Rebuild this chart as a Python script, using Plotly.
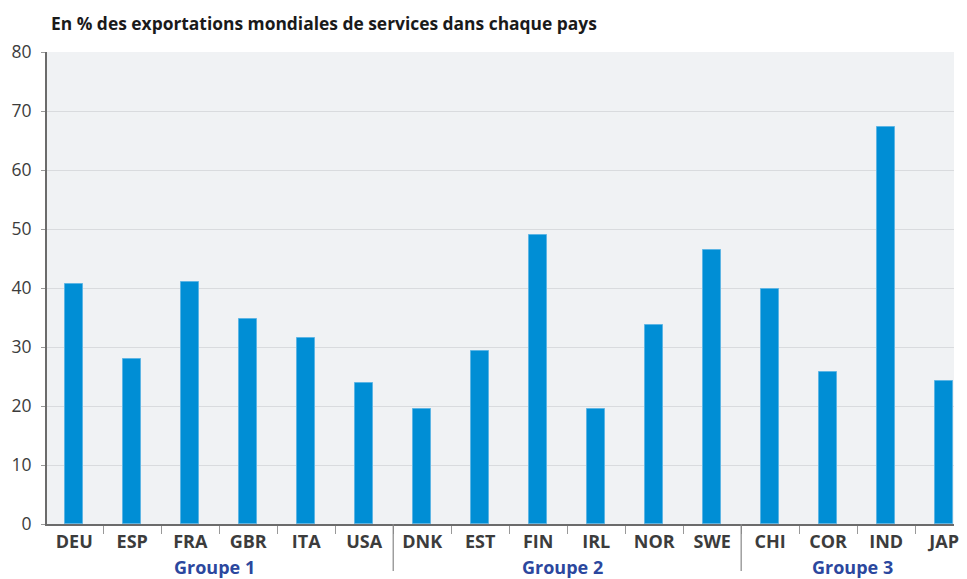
import plotly.graph_objects as go

countries = ["DEU", "ESP", "FRA", "GBR", "ITA", "USA",
             "DNK", "EST", "FIN", "IRL", "NOR", "SWE",
             "CHI", "COR", "IND", "JAP"]
values = [40.7, 28.0, 41.0, 34.8, 31.5, 23.9,
          19.5, 29.3, 49.0, 19.5, 33.7, 46.4,
          39.8, 25.8, 67.3, 24.2]
groups = ["Groupe 1", "Groupe 2", "Groupe 3"]
group_centers = [2.5, 8.5, 13.5]
group_separators = [5.5, 11.5]
y_ticks = [0, 10, 20, 30, 40, 50, 60, 70, 80]
title = "En % des exportations mondiales de services dans chaque pays"

# page has an 8px body margin, so the figure is sized/positioned to compensate
W, H = 951, 571
L, R, T, B = 39, 0, 44, 55
plot_h = H - T - B

fig = go.Figure(go.Bar(
    x=countries, y=values,
    marker=dict(color="#008ED5", line=dict(color="#5DB5E4", width=1)),
    width=0.31,
))

shapes = []
for s in group_separators:
    shapes.append(dict(type="line", xref="x", yref="paper",
                       x0=s, x1=s, y0=0, y1=-(571 - 524) / plot_h,
                       line=dict(color="#888888", width=1.2)))

annotations = [dict(text=title, xref="paper", yref="paper",
                    x=0.002, y=1 + (52 - 23) / plot_h, xanchor="left", yanchor="middle",
                    showarrow=False,
                    font=dict(family="Open Sans", size=17.4, color="#1a1a1a", weight="bold"))]
for g, c in zip(groups, group_centers):
    annotations.append(dict(text=g, xref="x", yref="paper", x=c, xshift=-5,
                            y=-(567 - 524) / plot_h, yanchor="middle", showarrow=False,
                            font=dict(family="Open Sans", size=18, color="#2B479E", weight="bold")))

fig.update_layout(
    width=W, height=H,
    margin=dict(l=L, r=R, t=T, b=B),
    paper_bgcolor="white",
    plot_bgcolor="#F0F2F4",
    showlegend=False,
    bargap=0,
    shapes=shapes,
    annotations=annotations,
    xaxis=dict(
        type="category", range=[-0.47, 15.17],
        showline=True, linecolor="#6B6B6B", linewidth=2,
        ticks="outside", tickson="boundaries", ticklen=8, tickcolor="#999999", tickwidth=1,
        showgrid=False,
        tickfont=dict(family="Open Sans", size=18, color="#3C3C3C", weight="bold"),
    ),
    yaxis=dict(
        range=[0, 80], tickvals=y_ticks,
        showline=True, linecolor="#6B6B6B", linewidth=2,
        ticks="outside", ticklen=4, tickcolor="#999999",
        ticklabelstandoff=6,
        gridcolor="#D9DBDE", gridwidth=1, zeroline=False,
        tickfont=dict(family="Open Sans", size=17.5, color="#3C3C3C"),
    ),
)

fig.write_html("out.html")
